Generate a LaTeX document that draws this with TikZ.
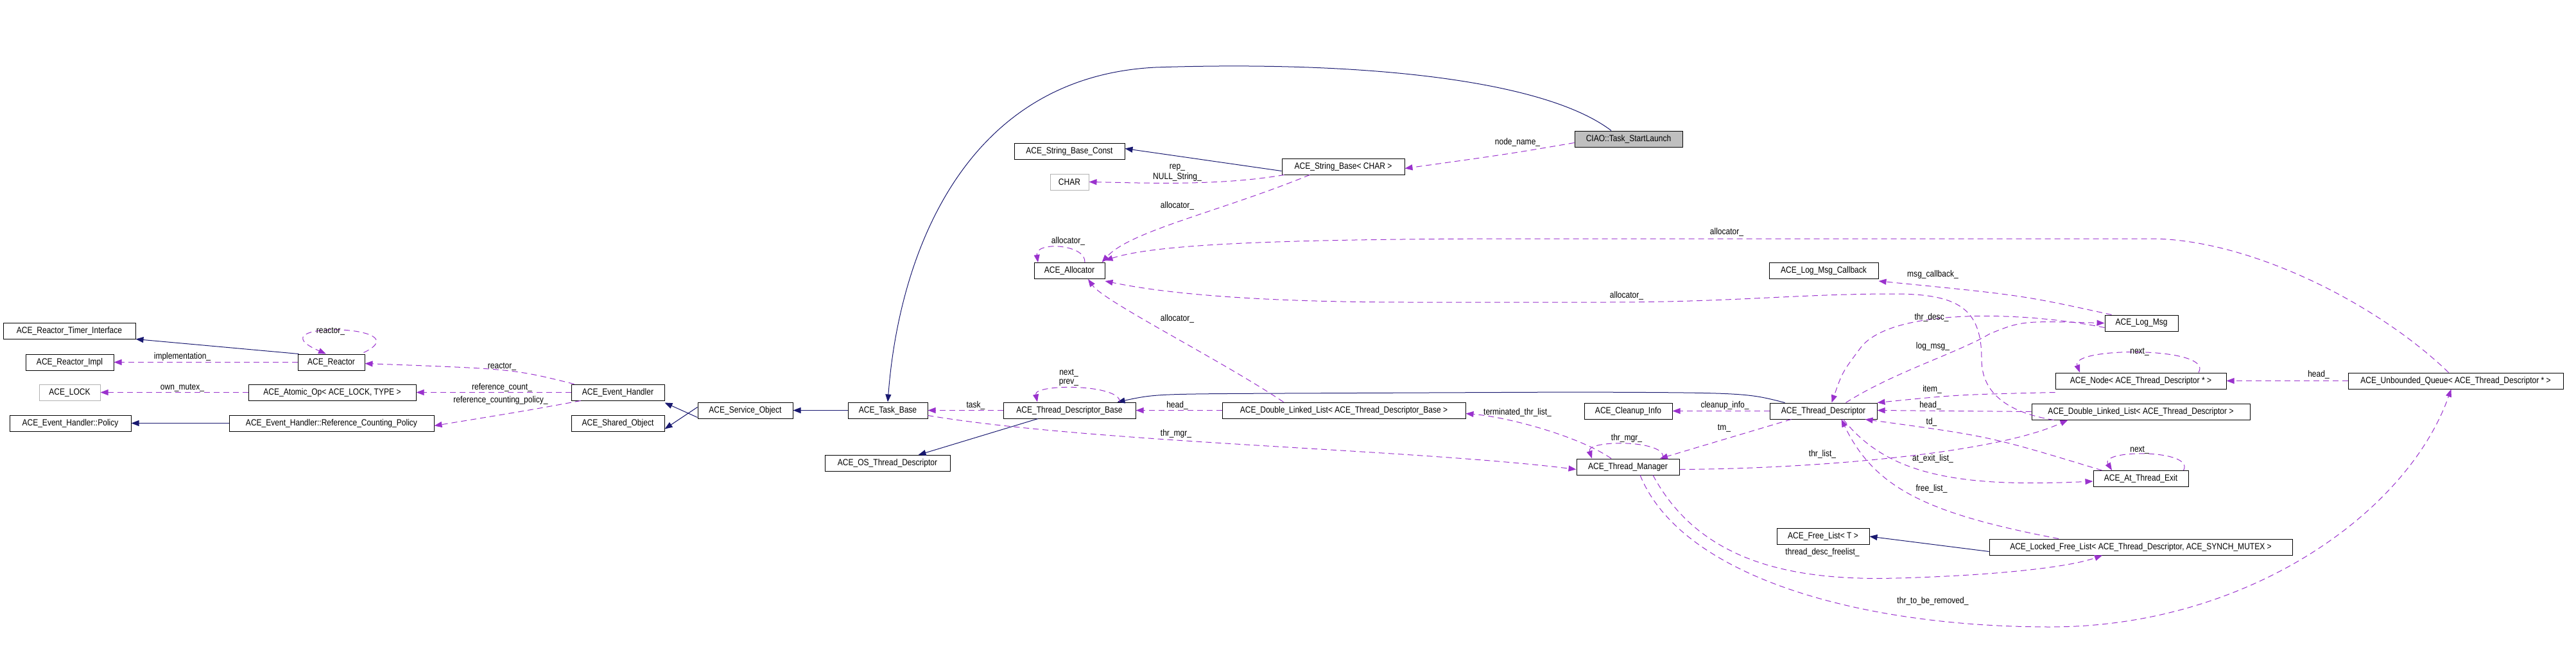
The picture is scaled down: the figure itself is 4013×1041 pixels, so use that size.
\documentclass[tikz,border=0pt]{standalone}
\usepackage{fontspec}
\setmainfont{Liberation Sans}[FakeStretch=0.86]
\usetikzlibrary{arrows.meta}
\definecolor{inh}{HTML}{191970}
\definecolor{assoc}{HTML}{9A32CD}
\definecolor{grayfill}{HTML}{BFBFBF}
\begin{document}
\begin{tikzpicture}[x=1pt,y=-1pt,
  cls/.style={draw=black,line width=1pt,minimum height=25pt,inner sep=2pt,font=\fontsize{14}{14}\selectfont,fill=white},
  ghost/.style={cls,draw=black!30},
  lbl/.style={inner sep=0pt,font=\fontsize{14}{14}\selectfont},
  inhe/.style={draw=inh,line width=1pt,-{Triangle[length=12pt,width=9pt]}},
  asc/.style={draw=assoc,line width=1pt,dash pattern=on 9pt off 6pt,-{Triangle[length=12pt,width=9pt,fill=assoc]}}]
\useasboundingbox (0,0) rectangle (4013,1041);
% nodes
\node[cls,fill=grayfill,minimum width=168pt] (launch) at (2537,216.5) {CIAO::Task\_StartLaunch};
\node[cls,minimum width=172pt] (sbc) at (1666,235.5) {ACE\_String\_Base\_Const};
\node[cls,minimum width=191pt] (sb) at (2092.5,259.5) {ACE\_String\_Base< CHAR >};
\node[ghost,minimum width=60pt] (char) at (1666,283.5) {CHAR};
\node[cls,minimum width=110pt] (alloc) at (1666,422) {ACE\_Allocator};
\node[cls,minimum width=170pt] (lmc) at (2841,422) {ACE\_Log\_Msg\_Callback};
\node[cls,minimum width=114pt] (logmsg) at (3336,503.5) {ACE\_Log\_Msg};
\node[cls,minimum width=206pt] (timer) at (108,515.5) {ACE\_Reactor\_Timer\_Interface};
\node[cls,minimum width=137pt] (rimpl) at (108.5,564.5) {ACE\_Reactor\_Impl};
\node[cls,minimum width=104pt] (reactor) at (516,564.5) {ACE\_Reactor};
\node[ghost,minimum width=95pt] (lock) at (108.5,611.5) {ACE\_LOCK};
\node[cls,minimum width=261pt] (atomic) at (517.5,611.5) {ACE\_Atomic\_Op< ACE\_LOCK, TYPE >};
\node[cls,minimum width=145pt] (eh) at (962.5,611.5) {ACE\_Event\_Handler};
\node[cls,minimum width=189pt] (policy) at (109.5,659.5) {ACE\_Event\_Handler::Policy};
\node[cls,minimum width=319pt] (rcp) at (516.5,659.5) {ACE\_Event\_Handler::Reference\_Counting\_Policy};
\node[cls,minimum width=145pt] (so) at (962.5,659.5) {ACE\_Shared\_Object};
\node[cls,minimum width=148pt] (svc) at (1161,639.5) {ACE\_Service\_Object};
\node[cls,minimum width=124pt] (task) at (1383,639.5) {ACE\_Task\_Base};
\node[cls,minimum width=206pt] (tdb) at (1666,639.5) {ACE\_Thread\_Descriptor\_Base};
\node[cls,minimum width=195pt] (osd) at (1382.5,722) {ACE\_OS\_Thread\_Descriptor};
\node[cls,minimum width=379pt] (dllb) at (2093.5,639.5) {ACE\_Double\_Linked\_List< ACE\_Thread\_Descriptor\_Base >};
\node[cls,minimum width=137pt] (cleanup) at (2536.5,640.5) {ACE\_Cleanup\_Info};
\node[cls,minimum width=167pt] (td) at (2840.5,640.5) {ACE\_Thread\_Descriptor};
\node[cls,minimum width=160pt] (tm) at (2536,727.5) {ACE\_Thread\_Manager};
\node[cls,minimum width=266pt] (node) at (3335,593.5) {ACE\_Node< ACE\_Thread\_Descriptor * >};
\node[cls,minimum width=335pt] (uq) at (3825.5,593.5) {ACE\_Unbounded\_Queue< ACE\_Thread\_Descriptor * >};
\node[cls,minimum width=340pt] (dlltd) at (3335,641.5) {ACE\_Double\_Linked\_List< ACE\_Thread\_Descriptor >};
\node[cls,minimum width=148pt] (ate) at (3335,746) {ACE\_At\_Thread\_Exit};
\node[cls,minimum width=144pt] (fl) at (2840,836) {ACE\_Free\_List< T >};
\node[cls,minimum width=472pt] (lfl) at (3335,852.5) {ACE\_Locked\_Free\_List< ACE\_Thread\_Descriptor, ACE\_SYNCH\_MUTEX >};
% inheritance
\draw[inhe] ([xshift=-27pt]launch.north) .. controls (2400,120) and (2100,95) .. (1800,105) .. controls (1500,120) and (1400,400) .. (task.north);
\draw[inhe] ([xshift=-60pt]td.north) .. controls (2720,612) .. (2450,611) -- (2000,613) .. controls (1800,614) .. ([xshift=-29pt]tdb.north east);
\draw[inhe] ([xshift=-49pt]tdb.south) -- ([xshift=48pt]osd.north);
\draw[inhe] ([yshift=-11pt]svc.west) -- ([yshift=-3pt]eh.south east);
\draw[inhe] ([yshift=5pt]svc.west) -- ([yshift=-9pt]so.east);
\draw[inhe] (task.west) -- (svc.east);
\draw[inhe] ([xshift=2pt]reactor.north west) -- (timer.south east);
\draw[inhe] (rcp.west) -- (policy.east);
\draw[inhe] ([yshift=-7pt]sb.west) -- ([yshift=4pt]sbc.east);
\draw[inhe] ([yshift=-7pt]lfl.west) -- (fl.east);
% associations
\draw[asc] ([yshift=-6pt]launch.west) .. controls (2350,240) .. ([yshift=-3pt]sb.east);
\draw[asc] ([xshift=-92pt]sb.south) .. controls (1900,290) and (1780,285) .. (char.east);
\draw[asc] ([xshift=-52pt]sb.south) .. controls (1900,330) and (1760,360) .. ([xshift=-5pt]alloc.north east);
\draw[asc] ([xshift=24pt]alloc.north) .. controls (1692,380) and (1612,376) .. ([xshift=-49pt]alloc.north);
\draw[asc] ([xshift=-11pt]uq.north) .. controls (3700,470) and (3500,372) .. (3350,372) -- (2400,372) .. controls (2000,372) and (1800,380) .. ([yshift=3pt]alloc.north east);
\draw[asc] ([xshift=35pt]dlltd.south west) .. controls (3110,640) and (3087,600) .. (3087,560) .. controls (3087,480) and (3050,458) .. (2950,458) .. controls (2800,458) and (2700,471) .. (2500,471) -- (2200,471) .. controls (1900,471) and (1780,450) .. ([yshift=-3pt]alloc.south east);
\draw[asc] ([xshift=96pt]dllb.north west) .. controls (1900,560) and (1720,470) .. ([xshift=29pt]alloc.south);
\draw[asc] ([xshift=11pt]logmsg.north west) .. controls (3150,460) .. ([yshift=-3pt]lmc.south east);
\draw[asc] ([yshift=-7pt]logmsg.west) .. controls (3150,485) and (2950,480) .. (2900,540) .. controls (2870,580) .. ([xshift=13pt]td.north);
\draw[asc] ([xshift=35pt]td.north) .. controls (2950,580) and (3050,550) .. (3100,520) .. controls (3150,500) .. (logmsg.west);
\draw[asc] ([yshift=-5pt]node.south west) .. controls (3050,615) .. (td.north east);
\draw[asc] ([xshift=90pt]node.north) .. controls (3450,540) and (3225,540) .. ([xshift=-95pt]node.north);
\draw[asc] (uq.west) -- (node.east);
\draw[asc] (dlltd.west) -- ([yshift=1pt]td.east);
\draw[asc] ([xshift=14pt]ate.north west) .. controls (3100,680) .. ([xshift=-19pt]td.south east);
\draw[asc] ([xshift=-8pt]ate.north east) .. controls (3420,700) and (3270,700) .. ([xshift=-45pt]ate.north);
\draw[asc] (td.west) -- (cleanup.east);
\draw[asc] ([xshift=-50pt]td.south) -- ([xshift=50pt]tm.north);
\draw[asc] ([xshift=54pt]tm.north) .. controls (2600,685) and (2470,685) .. ([xshift=-56pt]tm.north);
\draw[asc] ([yshift=-4pt]tm.east) .. controls (2800,731) and (3100,710) .. ([xshift=57pt]dlltd.south west);
\draw[asc] ([xshift=31pt]td.south) .. controls (2940,740) and (3050,760) .. ([yshift=-4pt]ate.west);
\draw[asc] ([xshift=-128pt]lfl.north) .. controls (3000,800) and (2920,760) .. ([xshift=28pt]td.south);
\draw[asc] ([yshift=-8pt]task.east) .. controls (1700,690) and (2200,700) .. ([yshift=-4pt]tm.west);
\draw[asc] ([xshift=-26pt]tm.north) .. controls (2460,680) and (2350,650) .. ([yshift=-5pt]dllb.east);
\draw[asc] (tdb.west) -- (task.east);
\draw[asc] (dllb.west) -- (tdb.east);
\draw[asc] ([xshift=-25pt]tdb.north east) .. controls (1745,598) and (1610,598) .. ([xshift=-50pt]tdb.north);
\draw[asc] ([xshift=5pt]eh.north west) .. controls (800,575) .. ([yshift=-2pt]reactor.east);
\draw[asc] ([xshift=-2pt,yshift=2pt]reactor.north east) .. controls (660,505) and (390,500) .. ([xshift=-8pt]reactor.north);
\draw[asc] (reactor.west) -- (rimpl.east);
\draw[asc] (eh.west) -- (atomic.east);
\draw[asc] (atomic.west) -- (lock.east);
\draw[asc] ([xshift=15pt]eh.south west) .. controls (820,640) .. ([yshift=-4pt]rcp.east);
\draw[asc] ([xshift=39pt]tm.south) .. controls (2650,880) and (2800,905) .. (2954,901) .. controls (3100,897) and (3220,885) .. ([xshift=-60pt]lfl.south);
\draw[asc] ([xshift=19pt]tm.south) .. controls (2620,900) and (2900,977) .. (3194,977) .. controls (3500,977) and (3750,800) .. ([xshift=-7pt]uq.south);
% labels
\node[lbl] (l1) at (2364,222) {node\_name\_};
\node[lbl] (l2) at (1834,261) {rep\_};
\node[lbl] (l3) at (1834,276) {NULL\_String\_};
\node[lbl] (l4) at (1834,321) {allocator\_};
\node[lbl] (l5) at (1664,376) {allocator\_};
\node[lbl] (l6) at (2690,362) {allocator\_};
\node[lbl] (l7) at (2534,461) {allocator\_};
\node[lbl] (l8) at (1834,497) {allocator\_};
\node[lbl] (l9) at (3011,428) {msg\_callback\_};
\node[lbl] (l10) at (3009,495) {thr\_desc\_};
\node[lbl] (l11) at (3011,540) {log\_msg\_};
\node[lbl] (l12) at (3333,548) {next\_};
\node[lbl] (l13) at (3010,607) {item\_};
\node[lbl] (l14) at (3612,584) {head\_};
\node[lbl] (l15) at (3007,632) {head\_};
\node[lbl] (l16) at (2687,632) {cleanup\_info\_};
\node[lbl] (l17) at (3009,658) {td\_};
\node[lbl] (l18) at (2686,667) {tm\_};
\node[lbl] (l19) at (2534,683) {thr\_mgr\_};
\node[lbl] (l20) at (3333,701) {next\_};
\node[lbl] (l21) at (2839,708) {thr\_list\_};
\node[lbl] (l22) at (3011,715) {at\_exit\_list\_};
\node[lbl] (l23) at (3009,762) {free\_list\_};
\node[lbl] (l24) at (2364,643) {terminated\_thr\_list\_};
\node[lbl] (l25) at (1520,632) {task\_};
\node[lbl] (l26) at (1834,632) {head\_};
\node[lbl] (l27) at (1665,581) {next\_};
\node[lbl] (l28) at (1665,596) {prev\_};
\node[lbl] (l29) at (1832,676) {thr\_mgr\_};
\node[lbl] (l30) at (515,516) {reactor\_};
\node[lbl] (l31) at (284,556) {implementation\_};
\node[lbl] (l32) at (782,571) {reactor\_};
\node[lbl] (l33) at (284,604) {own\_mutex\_};
\node[lbl] (l34) at (782,604) {reference\_count\_};
\node[lbl] (l35) at (780,624) {reference\_counting\_policy\_};
\node[lbl] (l36) at (2839,861) {thread\_desc\_freelist\_};
\node[lbl] (l37) at (3011,937) {thr\_to\_be\_removed\_};
\end{tikzpicture}
\end{document}
